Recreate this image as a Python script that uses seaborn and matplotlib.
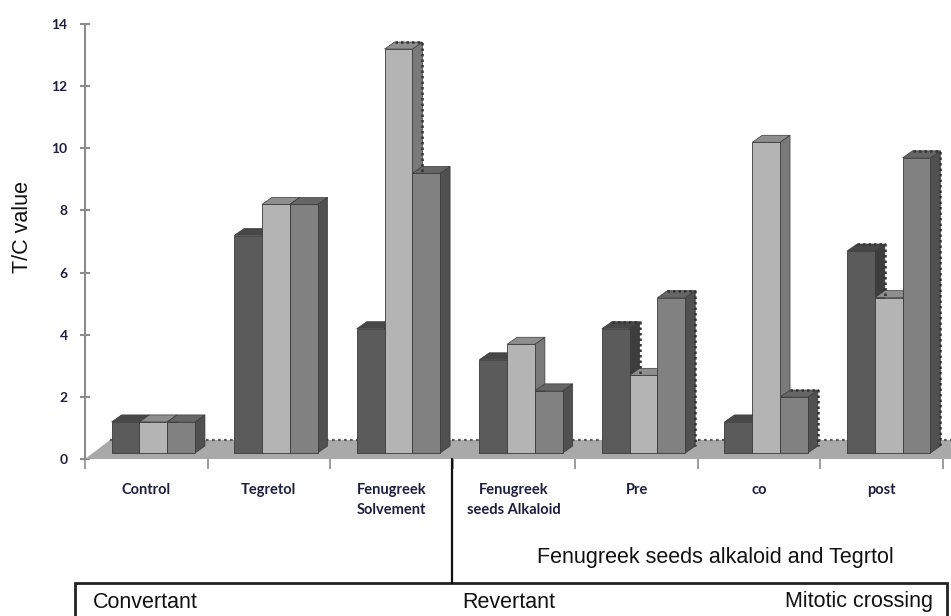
import numpy as np
import pandas as pd
import matplotlib
matplotlib.use("Agg")
import matplotlib.pyplot as plt
import seaborn as sns
from matplotlib.patches import Polygon, Rectangle
from matplotlib.transforms import ScaledTranslation
from matplotlib.lines import Line2D

# ---- data -------------------------------------------------------------
groups = ["Control", "Tegretol", "Fenugreek\nSolvement", "Fenugreek\nseeds Alkaloid",
          "Pre", "co", "post"]
series_names = ["Convertant", "Revertant", "Mitotic crossing"]
convertant = [1, 7, 4, 3, 4, 1, 6.5]
revertant = [1, 8, 13, 3.5, 2.5, 10, 5]
mitotic = [1, 8, 9, 2, 5, 1.8, 9.5]
y_ticks = [0, 2, 4, 6, 8, 10, 12, 14]

df = pd.DataFrame({
    "group": groups * 3,
    "series": np.repeat(series_names, len(groups)),
    "value": convertant + revertant + mitotic,
})

# ---- styling ----------------------------------------------------------
front_colors = ["#5b5b5b", "#b4b4b4", "#818181"]
top_colors = ["#474747", "#8e8e8e", "#666666"]
side_colors = ["#3d3d3d", "#7a7a7a", "#505050"]
edge_color = "#3a3a3a"
dotted_bars = {(2, 1), (4, 0), (4, 2), (5, 2), (6, 0), (6, 2)}
tick_font = ["Lato", "DejaVu Sans"]
tick_color = "#1e1e40"

sns.set_style("white")
plt.rcParams["font.family"] = ["Liberation Sans", "DejaVu Sans"]

W, H, DPI = 951, 616, 100
fig = plt.figure(figsize=(W / DPI, H / DPI), dpi=DPI)
fig.patch.set_facecolor("white")

def fx(px):
    return px / W

def fy(py):
    return 1 - py / H

ax = fig.add_axes([fx(85), fy(459), fx(943) - fx(85), fy(24) - fy(459)])
bar_width = 0.68
sns.barplot(data=df, x="group", y="value", hue="series", order=groups,
            hue_order=series_names, palette=front_colors, width=bar_width,
            saturation=1, legend=False, ax=ax, edgecolor=edge_color,
            linewidth=0.6, errorbar=None)

ax.set_xlim(-0.5, len(groups) - 0.5)
ax.set_ylim(0, 14)

# pixel-to-data scale for the pseudo 3-D projection
ppx = ax.bbox.width / len(groups)
ppy = ax.bbox.height / 14.0
front_tr = ax.transData + ScaledTranslation(7 / DPI, 6 / DPI, fig.dpi_scale_trans)
ddx, ddy = 10 / ppx, 7 / ppy          # bar depth
fdx, fdy = 25 / ppx, 19 / ppy         # floor depth

# floor
floor = Polygon([(-0.5, 0), (6.5 + 0.1, 0), (6.5 + 0.1 + fdx, fdy), (-0.5 + fdx, fdy)],
                closed=True, facecolor="#a9a9a9", edgecolor="none",
                transform=ax.transData, clip_on=False, zorder=1)
ax.add_patch(floor)
ax.add_line(Line2D([-0.5 + fdx, 6.6 + fdx], [fdy, fdy], color="#5a5a5a", lw=1.6,
                   linestyle=(0, (1.2, 1.5)), transform=ax.transData, clip_on=False, zorder=1.5))

# bars: front faces from seaborn, plus top and side faces for depth
bar_step = bar_width / 3
for p in list(ax.patches):
    if p is floor:
        continue
    x0, w, h = p.get_x(), p.get_width(), p.get_height()
    cx = x0 + w / 2
    gi = int(round(cx))
    si = int(round((cx - gi) / bar_step)) + 1
    p.set_transform(front_tr)
    p.set_clip_on(False)
    p.set_zorder(6)
    side = Polygon([(x0 + w, 0), (x0 + w, h), (x0 + w + ddx, h + ddy), (x0 + w + ddx, ddy)],
                   closed=True, facecolor=side_colors[si], edgecolor=edge_color, lw=0.5,
                   transform=front_tr, clip_on=False, zorder=4)
    top = Polygon([(x0, h), (x0 + w, h), (x0 + w + ddx, h + ddy), (x0 + ddx, h + ddy)],
                  closed=True, facecolor=top_colors[si], edgecolor=edge_color, lw=0.5,
                  transform=front_tr, clip_on=False, zorder=5)
    ax.add_patch(side)
    ax.add_patch(top)
    if (gi, si) in dotted_bars:
        ax.add_line(Line2D([x0 + ddx, x0 + w + ddx, x0 + w + ddx], [h + ddy, h + ddy, ddy],
                           color="#333333", lw=1.8, linestyle=(0, (1, 1.2)),
                           transform=front_tr, clip_on=False, zorder=5.5))

# axes styling
for s in ["top", "right", "bottom"]:
    ax.spines[s].set_visible(False)
ax.spines["left"].set_color("#8c8c8c")
ax.spines["left"].set_linewidth(1.5)
ax.spines["left"].set_zorder(7)

ax.set_yticks(y_ticks)
ax.set_yticklabels([str(t) for t in y_ticks], fontsize=10, fontweight="bold",
                   color=tick_color, family=tick_font)
ax.tick_params(axis="y", which="major", direction="inout", length=7, width=1.5,
               color="#8c8c8c", pad=9, left=True)

ax.set_xticks(range(len(groups)))
ax.set_xticklabels(groups, fontsize=10.5, fontweight="bold", color=tick_color,
                   family=tick_font, linespacing=1.55, va="top")
ax.tick_params(axis="x", which="major", length=0, pad=17)
ax.set_xticks(np.arange(-0.5, len(groups)), minor=True)
ax.tick_params(axis="x", which="minor", direction="out", length=7, width=1.2,
               color="#8c8c8c", bottom=True)
ax.set_xlabel("")
ax.set_ylabel("")
ax.grid(False)

# annotations
fig.text(fx(23), fy(227), "T/C value", rotation=90, ha="center", va="center",
         fontsize=15.5, color="#111111")
fig.add_artist(Line2D([fx(452), fx(452)], [fy(459), fy(583)], color="#111111", lw=1.6))
fig.add_artist(Rectangle((fx(75), fy(640)), fx(947) - fx(75), fy(583) - fy(640),
                         fill=False, edgecolor="#222222", lw=2.0))
fig.text(fx(537), fy(557), "Fenugreek seeds alkaloid and Tegrtol", ha="left",
         va="center", fontsize=15.5, color="#111111")
fig.text(fx(93), fy(602), "Convertant", ha="left", va="center", fontsize=15.5, color="#111111")
fig.text(fx(462), fy(602), "Revertant", ha="left", va="center", fontsize=15.5, color="#111111")
fig.text(fx(933), fy(602), "Mitotic crossing", ha="right", va="center", fontsize=15.5,
         color="#111111")

fig.savefig("out.png", dpi=DPI, facecolor="white")
